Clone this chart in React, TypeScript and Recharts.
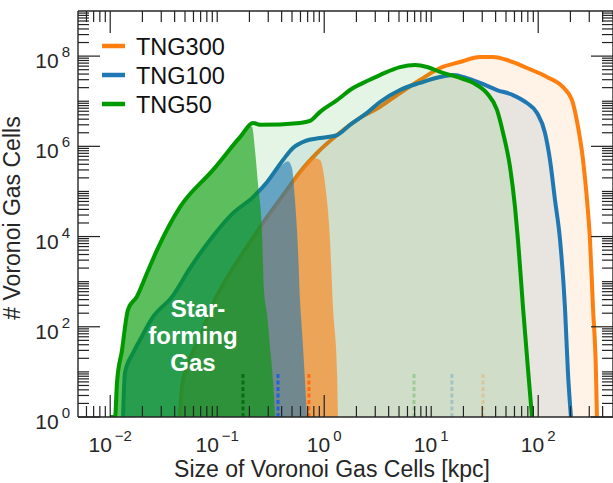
import React from 'react';
import { ComposedChart, Area, XAxis, YAxis, ReferenceLine } from 'recharts';

type Pt = { x: number; y: number };

const FONT = '"Liberation Sans", Arial, Helvetica, sans-serif';
const ORANGE = '#ff7f0e';
const BLUE = '#1f77b4';
const GREEN = '#009900';
const AXIS = '#262626';

const pts = (a: number[][]): Pt[] => a.map(([x, y]) => ({ x, y }));

// x: size of Voronoi gas cells [kpc], y: number of cells
const TNG50_ALL = pts([
  [0.00995, 1], [0.0111, 1], [0.01156, 5.7], [0.01288, 30], [0.01466, 240], [0.01778, 470],
  [0.02208, 1550], [0.02735, 5000], [0.04487, 45000], [0.09141, 3.0e5], [0.1633, 1.6e6],
  [0.2163, 3.3e6], [0.2512, 3.0e6], [0.5943, 3.3e6], [0.7362, 3.65e6], [0.9141, 5.8e6],
  [1.318, 1.06e7], [1.858, 1.96e7], [2.512, 2.8e7], [3.319, 3.8e7], [5.105, 5.7e7],
  [7.063, 6.35e7], [9.141, 5.75e7], [12.08, 4.45e7], [17.42, 3.45e7], [24.6, 2.55e7],
  [33.2, 1.5e7], [41.2, 6.4e6], [46.9, 2.0e6], [54.5, 3.5e5], [60.7, 4.5e4], [64.7, 8400],
  [72.1, 270], [80.4, 11], [87.5, 1],
]);

const TNG50_SF = pts([
  [0.00995, 1], [0.0111, 1], [0.01156, 5.7], [0.01288, 30], [0.01466, 240], [0.01778, 470],
  [0.02208, 1550], [0.02735, 5000], [0.04487, 45000], [0.09141, 3.0e5], [0.1633, 1.6e6],
  [0.1941, 2.8e6], [0.2113, 2.7e6], [0.2254, 8.3e5], [0.2404, 1.5e5], [0.2624, 1.2e4],
  [0.2735, 650], [0.2917, 200], [0.3112, 36], [0.3319, 6.6], [0.3467, 1],
]);

const TNG100_ALL = pts([
  [0.01318, 1], [0.01374, 9.5], [0.01633, 26], [0.01897, 51], [0.02512, 165], [0.03784, 460],
  [0.05572, 2000], [0.0857, 8400], [0.1406, 3.3e4], [0.2163, 7.5e4], [0.2917, 1.6e5],
  [0.4121, 5.0e5], [0.5105, 9.2e5], [0.6607, 1.31e6], [0.914, 1.53e6], [1.318, 1.78e6],
  [1.742, 3.0e6], [2.512, 5.5e6], [3.319, 9.6e6], [5.105, 1.77e7], [7.852, 2.55e7],
  [12.08, 3.45e7], [16.0, 3.8e7], [21.6, 3.25e7], [28.6, 2.55e7], [41.2, 1.77e7],
  [58.1, 1.37e7], [78.5, 9.1e6], [97.5, 5.5e6], [115.6, 2.0e6], [128.8, 5.0e5],
  [143.5, 6.5e4], [160, 8400], [177.8, 270], [189.7, 9.5], [202.3, 1],
]);

const TNG100_SF = pts([
  [0.01318, 1], [0.01374, 9.5], [0.01633, 26], [0.01897, 51], [0.02512, 165], [0.03784, 460],
  [0.05572, 2000], [0.0857, 8400], [0.1406, 3.3e4], [0.2163, 7.5e4], [0.2917, 1.6e5],
  [0.3864, 3.5e5], [0.4592, 4.7e5], [0.5, 3.3e5], [0.5333, 6.5e4], [0.5689, 5000],
  [0.594, 390], [0.6194, 85], [0.6607, 6.6], [0.6902, 1],
]);

const TNG300_ALL = pts([
  [0.04487, 1], [0.04688, 4.6], [0.05224, 12.8], [0.06902, 59], [0.09141, 320], [0.1318, 1550],
  [0.1897, 5900], [0.2679, 2.0e4], [0.4487, 1.08e5], [0.594, 2.7e5], [0.875, 7.5e5],
  [1.318, 1.78e6], [2.023, 3.85e6], [3.319, 7.5e6], [5.105, 1.52e7], [7.852, 2.95e7],
  [12.08, 5.45e7], [18.58, 7.4e7], [28.6, 9.55e7], [37.8, 9.55e7], [51.1, 8.2e7],
  [78.5, 5.45e7], [120.8, 3.45e7], [170.6, 2.05e7], [207, 1.06e7], [235.5, 2.7e6],
  [262.4, 5.0e5], [285.8, 6.5e4], [304.8, 8400], [325, 270], [346.7, 9.5], [354, 1],
]);

const TNG300_SF = pts([
  [0.04487, 1], [0.04688, 4.6], [0.05224, 12.8], [0.06902, 59], [0.09141, 320], [0.1318, 1550],
  [0.1897, 5900], [0.2679, 2.0e4], [0.4487, 1.08e5], [0.594, 2.7e5], [0.785, 5.5e5],
  [0.914, 5.0e5], [1.016, 1.54e5], [1.132, 8400], [1.208, 270], [1.318, 9.5], [1.346, 1],
]);

// dotted markers (cell size values) drawn from 1 to 9 cells
const MARKER_X = [0.174, 0.37, 0.72, 6.9, 15.6, 30.5];
const MARKER_COLORS = ['#0d6a16', '#2163d4', '#ff6a13', GREEN, BLUE, ORANGE];
const MARKER_OPACITY = [1, 1, 1, 0.25, 0.25, 0.25];
const MARKER_TOP = 9;

const SERIES_NAMES = ['TNG300', 'TNG100', 'TNG50'];
const SERIES_COLORS = [ORANGE, BLUE, GREEN];

// axes
const X_DOMAIN = [0.005, 500];
const Y_DOMAIN = [1, 1e9];
const X_DECADES = [-3, -2, -1, 0, 1, 2];
const Y_DECADES = [0, 1, 2, 3, 4, 5, 6, 7, 8];
const MULTIPLIERS = [1, 2, 3, 4, 5, 6, 7, 8, 9];
const X_LABEL_EXP = [-2, -1, 0, 1, 2];
const X_LONG_EXP = [-2, 0, 2];
const Y_LABEL_EXP = [0, 2, 4, 6, 8];
const Y_LONG_EXP = [0, 2, 4, 6, 8];

const X_TICKS = X_DECADES.flatMap((d) => MULTIPLIERS.map((m) => m * Math.pow(10, d))).filter(
  (v) => v > X_DOMAIN[0] * 1.0001 && v < X_DOMAIN[1] * 0.9999
);
const Y_TICKS = Y_DECADES.flatMap((d) => MULTIPLIERS.map((m) => m * Math.pow(10, d))).filter(
  (v) => v >= Y_DOMAIN[0] && v < Y_DOMAIN[1] * 0.9999
);

// layout
const CHART_W = 613;
const CHART_H = 483;
const M_TOP = 11;
const Y_AXIS_W = 78;
const X_AXIS_H = 66;
const PLOT_W = CHART_W - Y_AXIS_W;
const PLOT_H = CHART_H - M_TOP - X_AXIS_H;

const decadeOf = (v: number) => {
  const l = Math.log10(v);
  const r = Math.round(l);
  return Math.abs(l - r) < 1e-6 ? r : null;
};
const expText = (e: number) => (e < 0 ? '\u2212' + Math.abs(e) : String(e));

const LONG = 22;
const SHORT = 11;
const TICK_COLOR = '#222';
const TICK_W = 1.2;

// bottom axis tick: inward tick at the bottom, its mirror at the top frame, decade label
const BottomTick = (props: any) => {
  const px = Number(props.x);
  const py = Number(props.y);
  const e = decadeOf(props.payload.value);
  const len = e !== null && X_LONG_EXP.includes(e) ? LONG : SHORT;
  const top = py - PLOT_H;
  return (
    <g>
      <line x1={px} x2={px} y1={py} y2={py - len} stroke={TICK_COLOR} strokeWidth={TICK_W} />
      <line x1={px} x2={px} y1={top} y2={top + len} stroke={TICK_COLOR} strokeWidth={TICK_W} />
      {e !== null && X_LABEL_EXP.includes(e) && (
        <text x={px} y={py + 35} textAnchor="middle" fontFamily={FONT} fontSize={21} fill={AXIS}>
          <tspan>10</tspan>
          <tspan dx={3} dy={-11} fontSize={15}>{expText(e)}</tspan>
        </text>
      )}
    </g>
  );
};

// left axis tick: inward tick at the left, its mirror at the right frame, decade label
const LeftTick = (props: any) => {
  const px = Number(props.x);
  const py = Number(props.y);
  const e = decadeOf(props.payload.value);
  const len = e !== null && Y_LONG_EXP.includes(e) ? LONG : SHORT;
  const right = px + PLOT_W;
  return (
    <g>
      <line x1={px} x2={px + len} y1={py} y2={py} stroke={TICK_COLOR} strokeWidth={TICK_W} />
      <line x1={right} x2={right - len} y1={py} y2={py} stroke={TICK_COLOR} strokeWidth={TICK_W} />
      {e !== null && Y_LABEL_EXP.includes(e) && (
        <text x={px - 8} y={py + 12} textAnchor="end" fontFamily={FONT} fontSize={21} fill={AXIS}>
          <tspan>10</tspan>
          <tspan dx={3} dy={-11} fontSize={15}>{expText(e)}</tspan>
        </text>
      )}
    </g>
  );
};

const XTitle = () => (
  <text x={332} y={477} textAnchor="middle" fontFamily={FONT} fontSize={23} fill={AXIS}>
    Size of Voronoi Gas Cells [kpc]
  </text>
);

const YTitle = () => (
  <text
    transform="translate(20,218) rotate(-90)"
    textAnchor="middle"
    fontFamily={FONT}
    fontSize={23}
    fill={AXIS}
  >
    # Voronoi Gas Cells
  </text>
);

const axisLine = { stroke: AXIS, strokeWidth: 1.4 };

export default function App() {
  return (
    <div style={{ position: 'absolute', left: 0, top: 0, width: CHART_W, height: CHART_H, background: '#fff' }}>
      <ComposedChart width={CHART_W} height={CHART_H} margin={{ top: M_TOP, right: 0, bottom: 0, left: 0 }}>
        {/* all gas */}
        <Area xAxisId="b" yAxisId="l" data={TNG300_ALL} dataKey="y" type="monotoneX" baseValue={1}
          stroke={ORANGE} strokeWidth={4} fill={ORANGE} fillOpacity={0.1} isAnimationActive={false} dot={false} activeDot={false} />
        <Area xAxisId="b" yAxisId="l" data={TNG100_ALL} dataKey="y" type="monotoneX" baseValue={1}
          stroke={BLUE} strokeWidth={4} fill={BLUE} fillOpacity={0.1} isAnimationActive={false} dot={false} activeDot={false} />
        <Area xAxisId="b" yAxisId="l" data={TNG50_ALL} dataKey="y" type="monotoneX" baseValue={1}
          stroke={GREEN} strokeWidth={4} fill={GREEN} fillOpacity={0.1} isAnimationActive={false} dot={false} activeDot={false} />
        {/* star-forming gas */}
        <Area xAxisId="b" yAxisId="l" data={TNG300_SF} dataKey="y" type="monotoneX" baseValue={1}
          stroke="none" fill={ORANGE} fillOpacity={0.6} isAnimationActive={false} dot={false} activeDot={false} />
        <Area xAxisId="b" yAxisId="l" data={TNG100_SF} dataKey="y" type="monotoneX" baseValue={1}
          stroke="none" fill={BLUE} fillOpacity={0.6} isAnimationActive={false} dot={false} activeDot={false} />
        <Area xAxisId="b" yAxisId="l" data={TNG50_SF} dataKey="y" type="monotoneX" baseValue={1}
          stroke="none" fill={GREEN} fillOpacity={0.6} isAnimationActive={false} dot={false} activeDot={false} />

        {MARKER_X.map((mx, i) => (
          <ReferenceLine
            key={`m${i}`}
            xAxisId="b"
            yAxisId="l"
            segment={[{ x: mx, y: 1 }, { x: mx, y: MARKER_TOP }]}
            stroke={MARKER_COLORS[i]}
            strokeOpacity={MARKER_OPACITY[i]}
            strokeWidth={3}
            strokeDasharray="4 2.5"
            ifOverflow="visible"
          />
        ))}

        {/* top and right frame */}
        <ReferenceLine xAxisId="b" yAxisId="l" segment={[{ x: X_DOMAIN[0], y: Y_DOMAIN[1] }, { x: X_DOMAIN[1], y: Y_DOMAIN[1] }]}
          stroke={AXIS} strokeWidth={1.4} ifOverflow="visible" />
        <ReferenceLine xAxisId="b" yAxisId="l" segment={[{ x: X_DOMAIN[1], y: Y_DOMAIN[0] }, { x: X_DOMAIN[1], y: Y_DOMAIN[1] }]}
          stroke={AXIS} strokeWidth={1.4} ifOverflow="visible" />

        <XAxis xAxisId="b" type="number" dataKey="x" scale="log" domain={X_DOMAIN} allowDataOverflow
          ticks={X_TICKS} interval={0} tick={<BottomTick />} tickLine={false} tickSize={0} tickMargin={0}
          height={X_AXIS_H} axisLine={axisLine} label={<XTitle />} />
        <YAxis yAxisId="l" type="number" scale="log" domain={Y_DOMAIN} allowDataOverflow
          ticks={Y_TICKS} interval={0} tick={<LeftTick />} tickLine={false} tickSize={0} tickMargin={0}
          width={Y_AXIS_W} axisLine={axisLine} label={<YTitle />} />
      </ComposedChart>

      <svg width={CHART_W} height={CHART_H} style={{ position: 'absolute', left: 0, top: 0, pointerEvents: 'none' }}>
        {SERIES_NAMES.map((name, i) => (
          <g key={name}>
            <line x1={102} x2={125} y1={46 + i * 29} y2={46 + i * 29} stroke={SERIES_COLORS[i]} strokeWidth={4.5} />
            <text x={136} y={55 + i * 29} fontFamily={FONT} fontSize={23.5} fill="#111">{name}</text>
          </g>
        ))}
        <g fontFamily={FONT} fontWeight="bold" fontSize={24} fill="#fff" textAnchor="middle">
          <text x={198} y={317}>Star-</text>
          <text x={193} y={344}>forming</text>
          <text x={193} y={371}>Gas</text>
        </g>
      </svg>
    </div>
  );
}
